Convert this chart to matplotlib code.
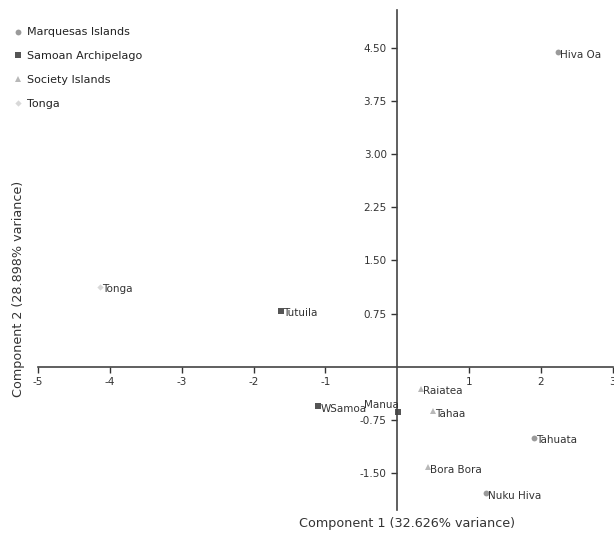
import matplotlib
matplotlib.use("Agg")
import matplotlib.pyplot as plt

# PCA scores per island, grouped by archipelago
groups = ["Marquesas Islands", "Samoan Archipelago", "Society Islands", "Tonga"]
colors = ["#9a9a9a", "#555555", "#b8b8b8", "#d8d8d8"]
markers = ["o", "s", "^", "D"]

marq_names = ["Hiva Oa", "Tahuata", "Nuku Hiva"]
marq_x = [2.24, 1.91, 1.23]
marq_y = [4.44, -1.00, -1.78]

samoa_names = ["Tutuila", "WSamoa", "Manua"]
samoa_x = [-1.625, -1.10, 0.01]
samoa_y = [0.79, -0.56, -0.64]

soc_names = ["Raiatea", "Tahaa", "Bora Bora"]
soc_x = [0.33, 0.50, 0.43]
soc_y = [-0.31, -0.63, -1.42]

tonga_names = ["Tonga"]
tonga_x = [-4.14]
tonga_y = [1.13]

xticks = [-5, -4, -3, -2, -1, 1, 2, 3]
yticks = [-1.50, -0.75, 0.75, 1.50, 2.25, 3.00, 3.75, 4.50]

fig = plt.figure(figsize=(6.14, 5.4), dpi=100)
ax = fig.add_axes([0.062, 0.0556, 0.936, 0.926])

series = [(marq_names, marq_x, marq_y), (samoa_names, samoa_x, samoa_y),
          (soc_names, soc_x, soc_y), (tonga_names, tonga_x, tonga_y)]
for (names, xs, ys), g, c, m in zip(series, groups, colors, markers):
    ms = 3.2 if m == "D" else 4.2
    ax.plot(xs, ys, linestyle="none", marker=m, color=c, markersize=ms,
            markeredgewidth=0, label=g)
    for n, x, y in zip(names, xs, ys):
        if n == "Manua":
            ax.annotate(n, (x, y), xytext=(1, 5), textcoords="offset points",
                        ha="right", va="center", fontsize=7.5, color="#333333")
        else:
            ax.annotate(n, (x, y), xytext=(1.5, -2), textcoords="offset points",
                        ha="left", va="center", fontsize=7.5, color="#333333")

ax.set_xlim(-5, 3)
ax.set_ylim(-2.02, 5.03)
for s in ["top", "right"]:
    ax.spines[s].set_visible(False)
ax.spines["left"].set_position(("data", 0))
ax.spines["bottom"].set_position(("data", 0))
for s in ["left", "bottom"]:
    ax.spines[s].set_color("#444444")
    ax.spines[s].set_linewidth(1.2)

ax.set_xticks(xticks)
ax.set_xticklabels([str(t) for t in xticks])
ax.set_yticks(yticks)
ax.set_yticklabels([f"{t:.2f}" for t in yticks])
ax.tick_params(axis="both", labelsize=7.5, colors="#333333", length=4,
               width=1, direction="out")

fig.text(0.663, 0.018, "Component 1 (32.626% variance)", ha="center",
         va="bottom", fontsize=9.2, color="#333333")
fig.text(0.03, 0.465, "Component 2 (28.898% variance)", ha="center",
         va="center", rotation=90, fontsize=9.2, color="#333333")

leg = ax.legend(loc="upper left", bbox_to_anchor=(-0.062, 0.985), frameon=False,
                fontsize=8, handletextpad=0.35, labelspacing=1.25,
                handlelength=1.0, markerscale=1.0)
for t in leg.get_texts():
    t.set_color("#222222")

fig.savefig("out.png", dpi=100)
